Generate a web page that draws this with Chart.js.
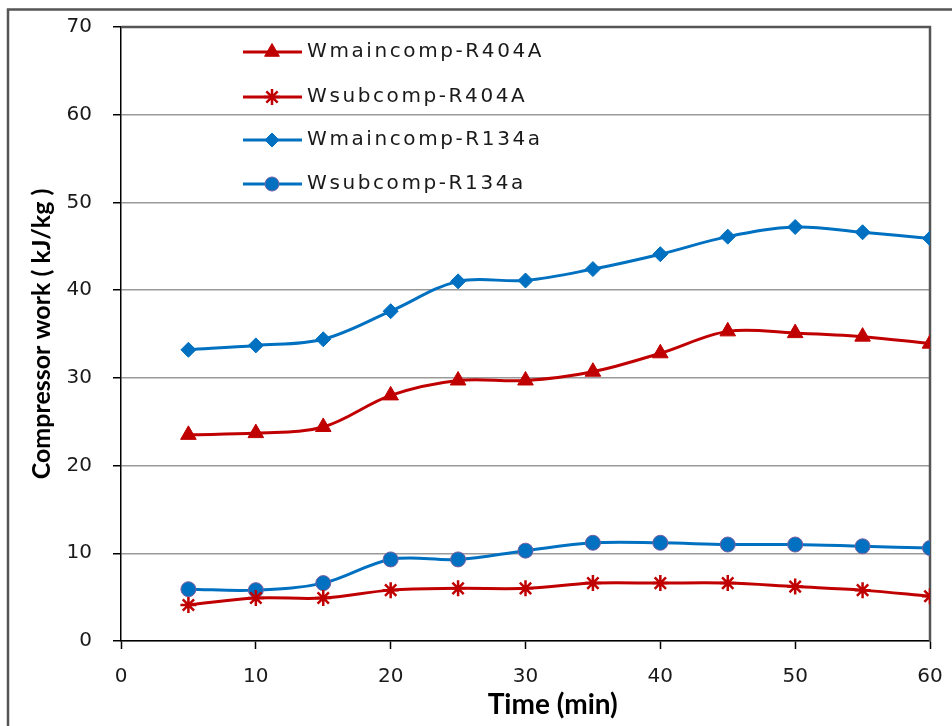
<!DOCTYPE html>
<html><head><meta charset="utf-8">
<script src="https://cdn.jsdelivr.net/npm/chart.js@4/dist/chart.umd.min.js"></script>
<style>html,body{margin:0;padding:0;background:#fff;}#wrap{width:952px;height:726px;position:relative;}</style>
</head><body><div id="wrap"><canvas id="c" width="952" height="726"></canvas></div>
<script>
const times = [5, 10, 15, 20, 25, 30, 35, 40, 45, 50, 55, 60];
const wMainR404A = [23.5, 23.7, 24.4, 28.0, 29.7, 29.7, 30.7, 32.8, 35.3, 35.1, 34.7, 33.9];
const wSubR404A  = [4.1, 4.9, 4.9, 5.8, 6.0, 6.0, 6.6, 6.6, 6.6, 6.2, 5.8, 5.1];
const wMainR134a = [33.2, 33.7, 34.4, 37.6, 41.0, 41.1, 42.4, 44.1, 46.1, 47.2, 46.6, 45.9];
const wSubR134a  = [5.9, 5.8, 6.6, 9.3, 9.3, 10.3, 11.2, 11.2, 11.0, 11.0, 10.8, 10.6];
const seriesNames = ['Wmaincomp-R404A', 'Wsubcomp-R404A', 'Wmaincomp-R134a', 'Wsubcomp-R134a'];
const xTickValues = [0, 10, 20, 30, 40, 50, 60];
const yTickValues = [0, 10, 20, 30, 40, 50, 60, 70];
const xTitle = 'Time (min)';
const yTitle = 'Compressor work ( kJ/kg )';

const RED = '#C00000', BLUE = '#0070C0';
const styles = [
  {color: RED, point: 'triangle', r: 9, bw: 1, border: RED},
  {color: RED, point: 'star', r: 8, bw: 2.5, border: RED},
  {color: BLUE, point: 'rectRot', r: 7.5, bw: 1, border: BLUE},
  {color: BLUE, point: 'circle', r: 7.5, bw: 1, border: '#7A5FA0'}
];
const seriesValues = [wMainR404A, wSubR404A, wMainR134a, wSubR134a];

const datasets = seriesValues.map((vals, i) => ({
  label: seriesNames[i],
  data: times.map((t, k) => ({x: t, y: vals[k]})),
  borderColor: styles[i].color,
  backgroundColor: styles[i].color,
  pointBackgroundColor: styles[i].color,
  pointBorderColor: styles[i].border,
  pointStyle: styles[i].point,
  pointRadius: styles[i].r,
  pointBorderWidth: styles[i].bw,
  borderWidth: 3,
  tension: 0.35,
  fill: false
}));

function drawMarker(ctx, style, r, x, y) {
  ctx.beginPath();
  if (style === 'triangle') {
    ctx.moveTo(x, y - r);
    ctx.lineTo(x + r * Math.cos(Math.PI / 6), y + r * 0.5);
    ctx.lineTo(x - r * Math.cos(Math.PI / 6), y + r * 0.5);
    ctx.closePath(); ctx.fill(); ctx.stroke();
  } else if (style === 'star') {
    for (let k = 0; k < 4; k++) {
      const a = k * Math.PI / 4;
      ctx.moveTo(x - Math.cos(a) * r, y - Math.sin(a) * r);
      ctx.lineTo(x + Math.cos(a) * r, y + Math.sin(a) * r);
    }
    ctx.stroke();
  } else if (style === 'rectRot') {
    ctx.moveTo(x, y - r); ctx.lineTo(x + r, y); ctx.lineTo(x, y + r); ctx.lineTo(x - r, y);
    ctx.closePath(); ctx.fill(); ctx.stroke();
  } else {
    ctx.arc(x, y, r, 0, Math.PI * 2); ctx.fill(); ctx.stroke();
  }
}

const framePlugin = {
  id: 'frame',
  beforeDraw(chart) {
    const ctx = chart.ctx;
    ctx.save();
    ctx.fillStyle = '#fff';
    ctx.fillRect(0, 0, chart.width, chart.height);
    ctx.strokeStyle = '#555';
    ctx.lineWidth = 2.5;
    ctx.strokeRect(8, 9.5, 1100, 1100);
    ctx.restore();
  },
  beforeDatasetsDraw(chart) {
    const ctx = chart.ctx, a = chart.chartArea;
    ctx.save();
    ctx.strokeStyle = '#555';
    ctx.lineWidth = 2.5;
    ctx.beginPath();
    ctx.moveTo(a.left, a.top);
    ctx.lineTo(a.right, a.top);
    ctx.lineTo(a.right, a.bottom);
    ctx.stroke();
    ctx.restore();
  },
  afterDatasetsDraw(chart) {
    const ctx = chart.ctx, a = chart.chartArea;
    const rows = [25, 70, 113, 157];
    ctx.save();
    chart.data.datasets.forEach((ds, i) => {
      const y = a.top + rows[i];
      ctx.strokeStyle = styles[i].color;
      ctx.lineWidth = 3;
      ctx.beginPath();
      ctx.moveTo(a.left + 122, y);
      ctx.lineTo(a.left + 181, y);
      ctx.stroke();
      ctx.fillStyle = styles[i].color;
      ctx.strokeStyle = styles[i].border;
      ctx.lineWidth = styles[i].bw;
      const lr = styles[i].point === 'star' ? 8 : (styles[i].point === 'triangle' ? 8.5 : 7);
      drawMarker(ctx, styles[i].point, lr, a.left + 151, y);
      ctx.fillStyle = '#1a1a1a';
      ctx.font = '20px "DejaVu Sans"';
      ctx.textBaseline = 'middle';
      ctx.textAlign = 'left';
      try { ctx.letterSpacing = '2.6px'; } catch (e) {}
      ctx.fillText(ds.label, a.left + 186, y);
    });
    ctx.restore();
  }
};

new Chart(document.getElementById('c'), {
  type: 'line',
  data: {datasets},
  plugins: [framePlugin],
  options: {
    responsive: false,
    animation: false,
    devicePixelRatio: 1,
    layout: {padding: {left: 0, top: 27, right: 22, bottom: 0}},
    plugins: {legend: {display: false}, tooltip: {enabled: false}, title: {display: false}},
    scales: {
      x: {
        type: 'linear', min: 0, max: 60,
        afterBuildTicks(scale) { scale.ticks = xTickValues.map(v => ({value: v})); },
        afterFit(scale) { scale.height = 85; scale.paddingLeft = 0; scale.paddingRight = 0; },
        ticks: {color: '#1a1a1a', font: {family: 'DejaVu Sans', size: 20}, padding: 16, maxRotation: 0},
        grid: {drawOnChartArea: false, drawTicks: true, tickLength: 8, tickColor: '#000', tickWidth: 1.5},
        border: {color: '#000', width: 1.5},
        title: {display: true, text: '        ' + xTitle, color: '#000', font: {family: 'Lato', size: 28, weight: 'bold'}, padding: {top: 0, bottom: 4}}
      },
      y: {
        type: 'linear', min: 0, max: 70,
        afterBuildTicks(scale) { scale.ticks = yTickValues.map(v => ({value: v})); },
        afterFit(scale) { scale.width = 121; scale.paddingTop = 0; scale.paddingBottom = 0; },
        ticks: {color: '#1a1a1a', font: {family: 'DejaVu Sans', size: 20}, padding: 21},
        grid: {color: '#9a9a9a', lineWidth: 1.5, drawTicks: true, tickLength: 8, tickColor: '#000', tickWidth: 1.5},
        border: {color: '#000', width: 1.5},
        title: {display: true, text: yTitle, color: '#000', font: {family: 'Lato', size: 25, weight: 'bold'}, padding: {top: 27, bottom: 0}}
      }
    }
  }
});
</script></body></html>
